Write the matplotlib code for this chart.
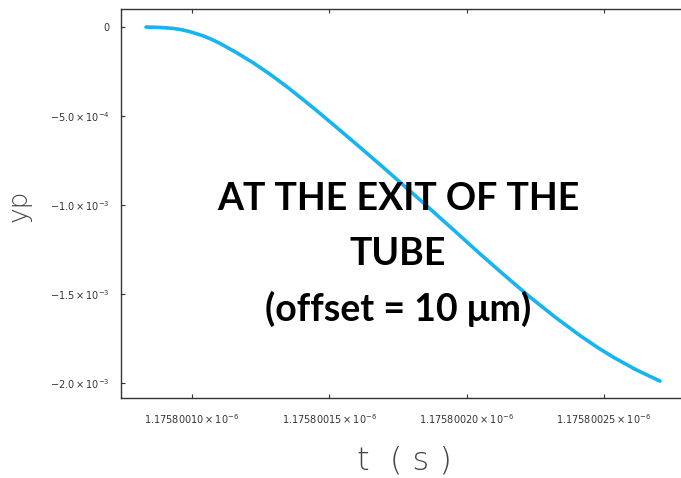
import matplotlib
matplotlib.use("Agg")
import matplotlib.pyplot as plt
from matplotlib.ticker import FixedLocator, FixedFormatter

# time (s) and yp values
t = [1.17580008325e-6, 1.17580008653e-6, 1.17580009017e-6, 1.17580009272e-6,
     1.17580009563e-6, 1.17580009927e-6, 1.17580010401e-6, 1.17580010728e-6,
     1.17580011020e-6, 1.17580011602e-6, 1.17580012221e-6, 1.17580012841e-6,
     1.17580013460e-6, 1.17580014042e-6, 1.17580014661e-6, 1.17580015244e-6,
     1.17580015863e-6, 1.17580016482e-6, 1.17580017101e-6, 1.17580017939e-6,
     1.17580018667e-6, 1.17580019578e-6, 1.17580020488e-6, 1.17580021398e-6,
     1.17580022309e-6, 1.17580023219e-6, 1.17580024130e-6, 1.17580024749e-6,
     1.17580025332e-6, 1.17580026169e-6, 1.17580027043e-6]
yp = [-0.02e-4, -0.03e-4, -0.06e-4, -0.09e-4,
      -0.15e-4, -0.28e-4, -0.51e-4, -0.72e-4,
      -0.94e-4, -1.44e-4, -2.02e-4, -2.67e-4,
      -3.38e-4, -4.09e-4, -4.87e-4, -5.63e-4,
      -6.44e-4, -7.26e-4, -8.09e-4, -9.23e-4,
      -10.23e-4, -11.49e-4, -12.76e-4, -13.99e-4,
      -15.19e-4, -16.31e-4, -17.35e-4, -18.00e-4,
      -18.56e-4, -19.27e-4, -19.91e-4]

xticks = [1.17580010e-6, 1.17580015e-6, 1.17580020e-6, 1.17580025e-6]
xticklabels = [r"$1.17580010\times10^{-6}$", r"$1.17580015\times10^{-6}$",
               r"$1.17580020\times10^{-6}$", r"$1.17580025\times10^{-6}$"]
yticks = [0.0, -5.0e-4, -1.0e-3, -1.5e-3, -2.0e-3]
yticklabels = ["0", r"$-5.0\times10^{-4}$", r"$-1.0\times10^{-3}$",
               r"$-1.5\times10^{-3}$", r"$-2.0\times10^{-3}$"]

W, H = 681, 478
fig = plt.figure(figsize=(W / 100, H / 100), dpi=100)
left, right, top, bottom = 121, 690, 9, 398
ax = fig.add_axes([left / W, 1 - bottom / H, (right - left) / W, (bottom - top) / H])

ax.plot(t, yp, color="#18B4F0", lw=2.6, solid_capstyle="round", solid_joinstyle="round")

x_per_px = 5e-14 / 137.3
ax.set_xlim(1.17580010e-6 - (192 - left) * x_per_px, 1.17580010e-6 + (right - 192) * x_per_px)
y_per_px = 5e-4 / 89.0
ax.set_ylim(-(bottom - 26.7) * y_per_px, (26.7 - top) * y_per_px)

ax.xaxis.set_major_locator(FixedLocator(xticks))
ax.xaxis.set_major_formatter(FixedFormatter(xticklabels))
ax.yaxis.set_major_locator(FixedLocator(yticks))
ax.yaxis.set_major_formatter(FixedFormatter(yticklabels))
ax.tick_params(direction="in", length=3, width=0.8, color="#333333",
               labelsize=7, labelcolor="#333333", top=True, right=False)
ax.tick_params(axis="x", pad=10)
ax.tick_params(axis="y", pad=8)
for s in ax.spines.values():
    s.set_color("#333333")
    s.set_linewidth(1.0)

fig.text(19 / W, 1 - 206 / H, "yp", rotation=90, ha="center", va="center",
         fontsize=19, color="#444444", family="DejaVu Sans", fontweight="light")
fig.text(404 / W, 1 - 460 / H, "t  ( s )", ha="center", va="center",
         fontsize=23, color="#444444", family="DejaVu Sans", fontweight="light")

fam = ["Lato", "DejaVu Sans"]
for txt, yb in [("AT THE EXIT OF THE", 210), ("TUBE", 265), ("(offset = 10 \u03bcm)", 321)]:
    fig.text(398 / W, 1 - yb / H, txt, ha="center", va="baseline",
             fontsize=27, fontweight="bold", family=fam, color="black")

fig.savefig("out.png", dpi=100)
